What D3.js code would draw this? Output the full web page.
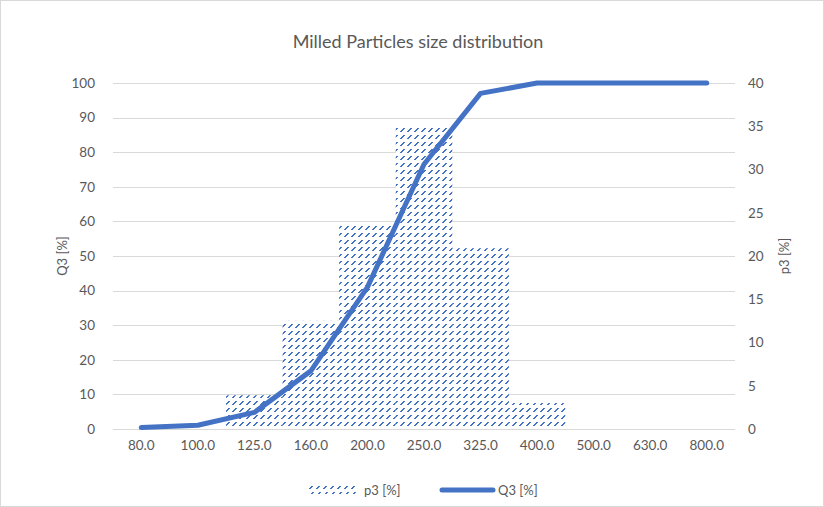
<!DOCTYPE html>
<html>
<head>
<meta charset="utf-8">
<script src="https://cdn.jsdelivr.net/npm/d3@7"></script>
<style>
  html, body { margin: 0; padding: 0; background: #fff; }
  svg { display: block; }
  text { font-family: Lato, "Open Sans", sans-serif; fill: #595959; }
</style>
</head>
<body>
<svg id="chart" width="824" height="507"></svg>
<script>
// Particle size classes (µm) shown on the category axis
const categories = ["80.0", "100.0", "125.0", "160.0", "200.0", "250.0", "325.0", "400.0", "500.0", "630.0", "800.0"];
// Density distribution per class, secondary axis
const p3 = [0, 0, 3.9, 12.5, 23.5, 35.1, 20.9, 3.0, 0, 0, 0];
// Cumulative distribution, primary axis
const Q3 = [0.4, 1.1, 4.8, 16.8, 41.0, 76.5, 97.0, 100, 100, 100, 100];
const leftTicks = [0, 10, 20, 30, 40, 50, 60, 70, 80, 90, 100];
const rightTicks = [0, 5, 10, 15, 20, 25, 30, 35, 40];

const blue = "#4472C4";
const grid = "#d9d9d9";
const svg = d3.select("#chart");

// chart area border
svg.append("rect").attr("x", 0.5).attr("y", 0.5).attr("width", 823).attr("height", 506)
  .attr("fill", "#fff").attr("stroke", grid);

// dashed upward-diagonal fill
const defs = svg.append("defs");
const pat = defs.append("pattern").attr("id", "dashUp").attr("patternUnits", "userSpaceOnUse")
  .attr("width", 7).attr("height", 7);
pat.append("rect").attr("width", 7).attr("height", 7).attr("fill", "#fff");
[[1, 5], [2, 4], [3, 3], [4, 2]].forEach(([px, py]) =>
  pat.append("rect").attr("x", px).attr("y", py).attr("width", 2).attr("height", 1).attr("fill", blue));

const x = d3.scaleBand().domain(categories).range([113, 735]).padding(0);
const yL = d3.scaleLinear().domain([0, 100]).range([429, 83]);
const yR = d3.scaleLinear().domain([0, 40]).range([429, 83]);

// horizontal gridlines
svg.append("g").selectAll("line").data(leftTicks).join("line")
  .attr("x1", 113).attr("x2", 735)
  .attr("y1", d => Math.round(yL(d)) + 0.5).attr("y2", d => Math.round(yL(d)) + 0.5)
  .attr("stroke", grid).attr("stroke-width", 1);

const styleTicks = g => g.selectAll("text").attr("font-size", 13.5).attr("fill", "#595959")
  .style("font-family", "Lato, sans-serif");

// left axis labels
const gL = svg.append("g").attr("transform", "translate(103,0)")
  .call(d3.axisLeft(yL).tickValues(leftTicks).tickSize(0).tickPadding(8).tickFormat(d3.format("d")));
gL.select(".domain").remove();
styleTicks(gL);

// right axis labels
const gR = svg.append("g").attr("transform", "translate(740,0)")
  .call(d3.axisRight(yR).tickValues(rightTicks).tickSize(0).tickPadding(8).tickFormat(d3.format("d")));
gR.select(".domain").remove();
styleTicks(gR);

// bars (p3)
svg.append("g").selectAll("rect").data(categories.map((c, i) => ({c, v: p3[i]})).filter(d => d.v > 0))
  .join("rect")
  .attr("x", d => x(d.c)).attr("width", x.bandwidth())
  .attr("y", d => yR(d.v)).attr("height", d => yR(0) - yR(d.v))
  .attr("fill", "url(#dashUp)");

// category axis
const gX = svg.append("g").attr("transform", "translate(0,429)")
  .call(d3.axisBottom(x).tickSize(0).tickPadding(11));
gX.select(".domain").attr("stroke", grid).attr("d", "M113,0.5H735");
styleTicks(gX);

// cumulative line (Q3)
const line = d3.line().x((d, i) => x(categories[i]) + x.bandwidth() / 2).y(d => yL(d));
svg.append("path").datum(Q3).attr("d", line)
  .attr("fill", "none").attr("stroke", blue).attr("stroke-width", 5)
  .attr("stroke-linecap", "round").attr("stroke-linejoin", "round");

// title
svg.append("text").attr("x", 418).attr("y", 48).attr("text-anchor", "middle")
  .attr("font-size", 18).text("Milled Particles size distribution");

// axis titles
svg.append("text").attr("transform", "translate(67,256) rotate(-90)").attr("text-anchor", "middle")
  .attr("font-size", 13).text("Q3 [%]");
svg.append("text").attr("transform", "translate(789,256) rotate(-90)").attr("text-anchor", "middle")
  .attr("font-size", 13).text("p3 [%]");

// legend
const lg = svg.append("g");
lg.append("rect").attr("x", 307).attr("y", 486).attr("width", 51).attr("height", 8).attr("fill", "url(#dashUp)");
lg.append("text").attr("x", 364).attr("y", 495).attr("font-size", 13).text("p3 [%]");
lg.append("line").attr("x1", 442).attr("x2", 493).attr("y1", 490).attr("y2", 490)
  .attr("stroke", blue).attr("stroke-width", 5).attr("stroke-linecap", "round");
lg.append("text").attr("x", 498).attr("y", 495).attr("font-size", 13).text("Q3 [%]");
</script>
</body>
</html>
